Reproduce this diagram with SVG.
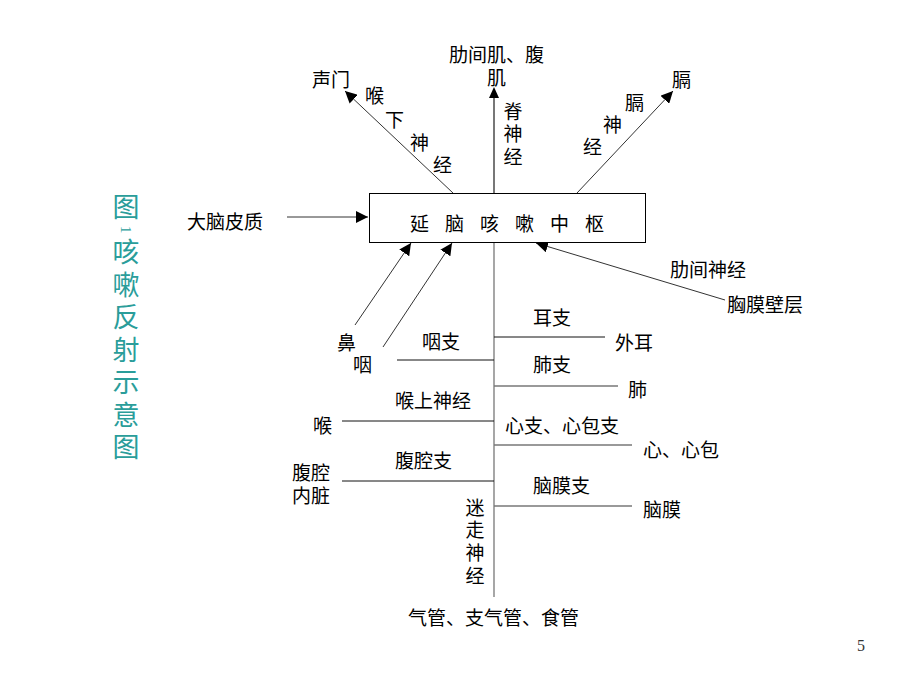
<svg xmlns="http://www.w3.org/2000/svg" width="920" height="690" viewBox="0 0 920 690">
<defs>
<marker id="ah" viewBox="0 0 10 10" refX="10" refY="5" markerWidth="12" markerHeight="12" markerUnits="userSpaceOnUse" orient="auto">
<path d="M0,0 L10,5 L0,10 z" fill="#000"/>
</marker>
<style>
text{font-family:"Noto Sans CJK SC","Noto Sans",sans-serif;font-size:19px;fill:#000}
.t{font-size:27px;fill:#2a9d9a;writing-mode:vertical-rl;letter-spacing:5.5px}
.v{writing-mode:vertical-rl;letter-spacing:3.6px}
.ln{stroke:#111;stroke-width:1;fill:none}
.gl{stroke:#777;stroke-width:1.3;fill:none}
.ar{stroke:#333;stroke-width:1;fill:none;marker-end:url(#ah)}
</style>
</defs>
<rect width="920" height="690" fill="#fff"/>

<g id="title">
<text class="t" x="126" y="193">图<tspan style="font-size:15px;font-family:'Liberation Serif',serif">1</tspan>咳嗽反射示意图</text>
</g>

<g id="connectors">
<line class="gl" x1="494" y1="242" x2="494" y2="597"/>
<line x1="494" y1="193" x2="494" y2="96" stroke="#777" stroke-width="2"/>
<path d="M494,87 L489,98 L499,98 z" fill="#000"/>
<line class="ar" x1="453" y1="193" x2="345" y2="91"/>
<line class="ar" x1="577" y1="193" x2="673" y2="91"/>
<line class="ar" x1="287" y1="217" x2="368" y2="217"/>
<line class="ar" x1="355" y1="325" x2="411" y2="243"/>
<line class="ar" x1="383" y1="347" x2="452" y2="243"/>
<line class="ar" x1="725" y1="300" x2="536" y2="243"/>
<line class="ln" x1="494" y1="337" x2="605" y2="337"/>
<line class="gl" x1="494" y1="386" x2="618" y2="386"/>
<line class="gl" x1="494" y1="445" x2="632" y2="445"/>
<line class="gl" x1="494" y1="506" x2="632" y2="506"/>
<line class="ln" x1="397" y1="360" x2="494" y2="360"/>
<line class="ln" x1="342" y1="421" x2="494" y2="421"/>
<line class="ln" x1="342" y1="481" x2="494" y2="481"/>
</g>

<g id="center">
<rect x="369.5" y="193.5" width="276" height="49" fill="#fff" stroke="#000" stroke-width="1"/>
<text x="410" y="231" letter-spacing="16">延脑咳嗽中枢</text>
</g>

<g id="top-labels">
<text x="449" y="62">肋间肌、腹<tspan x="487" y="85">肌</tspan></text>
<text x="312" y="87">声门</text>
<text x="365" y="103">喉</text>
<text x="385" y="127">下</text>
<text x="410" y="150">神</text>
<text x="433" y="172">经</text>
<text class="v" x="513" y="102">脊神经</text>
<text x="672" y="87">膈</text>
<text x="625" y="110">膈</text>
<text x="603" y="132">神</text>
<text x="583" y="154">经</text>
</g>

<g id="left-labels">
<text x="187" y="229">大脑皮质</text>
<text x="337" y="350">鼻</text>
<text x="353" y="372">咽</text>
<text x="422" y="349">咽支</text>
<text x="395" y="408">喉上神经</text>
<text x="313" y="433">喉</text>
<text x="395" y="468">腹腔支</text>
<text x="292" y="480">腹腔<tspan x="292" y="503">内脏</tspan></text>
<text class="v" x="475" y="498">迷走神经</text>
</g>

<g id="right-labels">
<text x="670" y="277">肋间神经</text>
<text x="727" y="312">胸膜壁层</text>
<text x="533" y="325">耳支</text>
<text x="615" y="350">外耳</text>
<text x="533" y="372">肺支</text>
<text x="628" y="397">肺</text>
<text x="505" y="433">心支、心包支</text>
<text x="643" y="457">心、心包</text>
<text x="533" y="493">脑膜支</text>
<text x="643" y="517">脑膜</text>
</g>

<g id="bottom">
<text x="408" y="625">气管、支气管、食管</text>
<text x="857" y="651" style="font-family:'Liberation Serif',serif;font-size:16px;fill:#333">5</text>
</g>
</svg>
